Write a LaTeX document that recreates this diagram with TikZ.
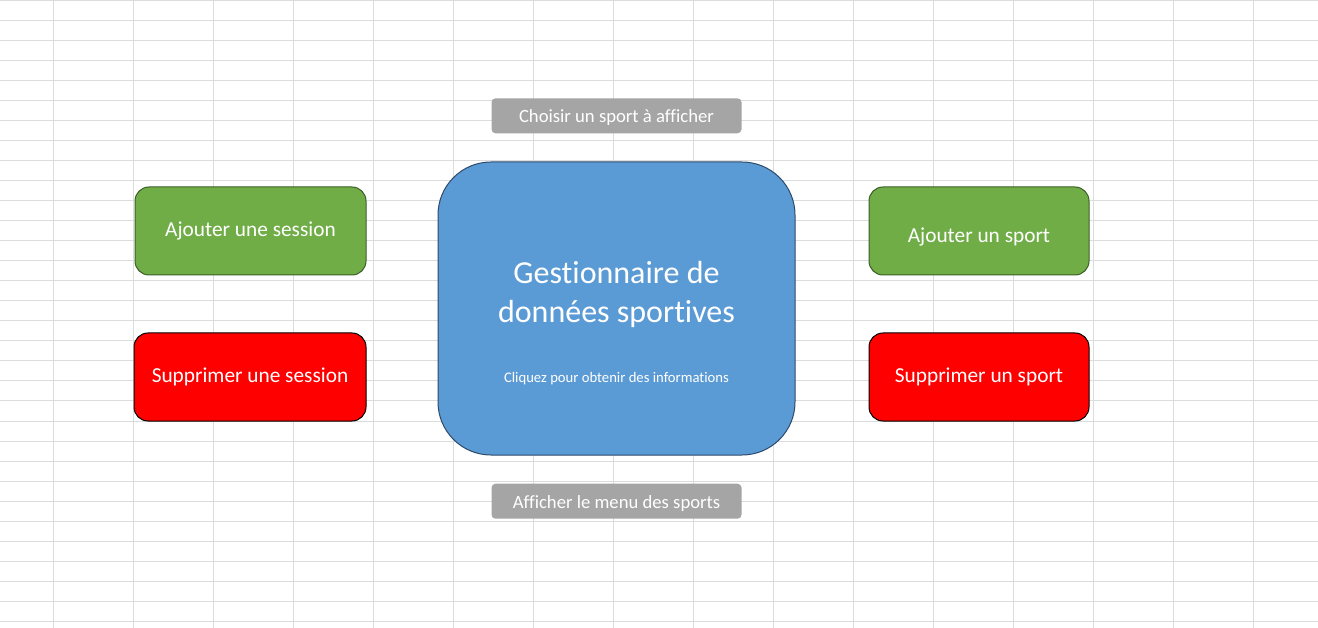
\documentclass[tikz,border=0pt]{standalone}
\usepackage{fontspec}
\setmainfont{Carlito}[Ligatures=NoCommon]
\usetikzlibrary{positioning}
\definecolor{gridgray}{HTML}{DADCDD}
\definecolor{mainblue}{HTML}{5B9BD5}
\definecolor{bordblue}{HTML}{2E4A6B}
\definecolor{addgreen}{HTML}{70AD47}
\definecolor{bordgreen}{HTML}{3B5E27}
\definecolor{delred}{HTML}{FF0000}
\definecolor{menugray}{HTML}{A5A5A5}

\begin{document}
\begin{tikzpicture}[x=1pt, y=-1pt,
    mainnode/.style={rectangle, rounded corners=53pt, draw=bordblue, fill=mainblue, line width=1pt, minimum width=357pt, minimum height=293pt},
    addnode/.style={rectangle, rounded corners=14pt, draw=bordgreen, fill=addgreen, line width=1pt, minimum height=88pt, font=\fontsize{21.33}{26}\selectfont},
    delnode/.style={rectangle, rounded corners=14pt, draw=black, fill=delred, line width=1pt, minimum height=88pt, font=\fontsize{21.33}{26}\selectfont},
    menunode/.style={rectangle, rounded corners=4pt, fill=menugray, minimum width=250pt, minimum height=35pt, text height=14pt, text depth=0.4pt, font=\fontsize{18.67}{22}\selectfont},
    ]
    \tikzstyle{every node}=[text=white, inner sep=0pt]
    \useasboundingbox[fill=white] (0,0) rectangle (1318,628);
    %Grid
    \foreach \gx in {53,133,...,1253} \draw[gridgray, line width=1pt] (\gx,0) -- (\gx,628);
    \foreach \gy in {1,21,...,621} \draw[gridgray, line width=1pt] (0,\gy) -- (1318,\gy);
    %Nodes
    \node[mainnode]      (main)  at (616.5,308.5) {};
    \node[align=center, font=\fontsize{32}{39}\selectfont] (title) at ([yshift=14pt]main.center) {Gestionnaire de\\données sportives};
    \node[font=\fontsize{14.67}{18}\selectfont] (hint) at ([yshift=-70.5pt]main.center) {Cliquez pour obtenir des informations};
    \node[menunode]      (choose)  [above=28pt of main] {Choisir un sport à afficher};
    \node[menunode]      (menu)  [below=28pt of main] {Afficher le menu des sports};
    \node[addnode, minimum width=231pt]  (addsession)  at (250.5,231) {Ajouter une session};
    \node[delnode, minimum width=232pt]  (delsession)  at (250,377) {Supprimer une session};
    \node[addnode, minimum width=220pt]  (addsport)  at (979,231) {\rule{0pt}{26pt}Ajouter un sport};
    \node[delnode, minimum width=220pt]  (delsport)  at (979,377) {Supprimer un sport};
\end{tikzpicture}
\end{document}
